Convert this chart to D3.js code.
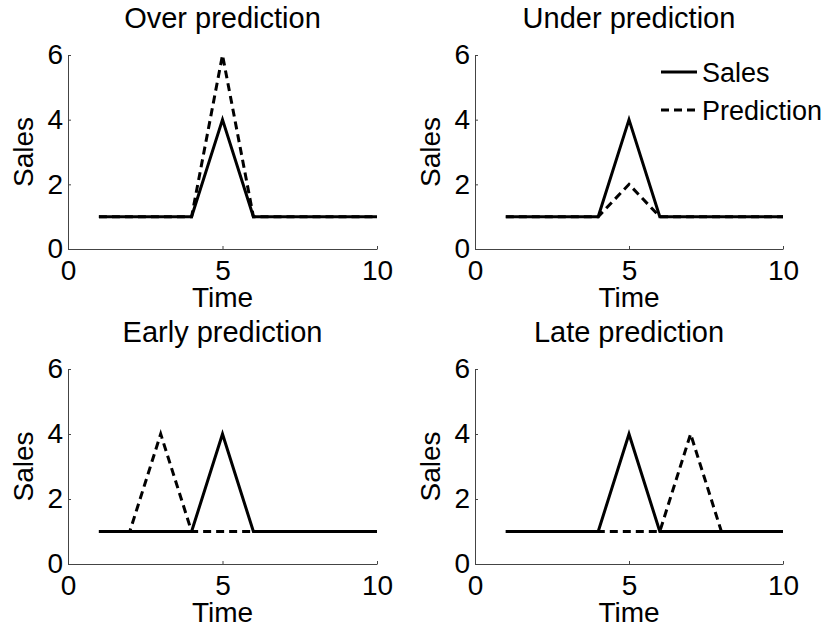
<!DOCTYPE html>
<html>
<head>
<meta charset="utf-8">
<script src="https://cdn.jsdelivr.net/npm/d3@7"></script>
<style>
  body { margin: 0; background: #fff; }
  text { font-family: "Liberation Sans", Arial, sans-serif; fill: #000; }
</style>
</head>
<body>
<script>
// data
const time = [1, 2, 3, 4, 5, 6, 7, 8, 9, 10];
const sales = [1, 1, 1, 1, 4, 1, 1, 1, 1, 1];
const overPred = [1, 1, 1, 1, 6, 1, 1, 1, 1, 1];
const underPred = [1, 1, 1, 1, 2, 1, 1, 1, 1, 1];
const earlyPred = [1, 1, 4, 1, 1, 1, 1, 1, 1, 1];
const latePred = [1, 1, 1, 1, 1, 1, 4, 1, 1, 1];
const titles = ["Over prediction", "Under prediction", "Early prediction", "Late prediction"];
const xTicks = [0, 5, 10];
const yTicks = [0, 2, 4, 6];
const legendLabels = ["Sales", "Prediction"];

const predictions = [overPred, underPred, earlyPred, latePred];

const width = 838;
const height = 630;

const svg = d3
  .select("body")
  .append("svg")
  .attr("width", width)
  .attr("height", height);

// plot area of each panel (left, right, top, bottom)
const panels = [
  { x0: 68, x1: 377, y0: 55, y1: 249 },
  { x0: 475, x1: 783, y0: 55, y1: 249 },
  { x0: 68, x1: 377, y0: 369, y1: 564 },
  { x0: 475, x1: 783, y0: 369, y1: 564 }
];

const fontSize = 28;

panels.forEach((p, i) => {
  const x = d3.scaleLinear().domain([0, 10]).range([p.x0, p.x1]);
  const y = d3.scaleLinear().domain([0, 6]).range([p.y1, p.y0]);

  const g = svg.append("g");

  //axes, MATLAB style ticks pointing inward
  const xAxis = g
    .append("g")
    .attr("transform", `translate(0,${p.y1})`)
    .call(
      d3.axisBottom(x)
        .tickValues(xTicks)
        .tickFormat(d3.format("d"))
        .tickSizeInner(-3)
        .tickSizeOuter(0)
        .tickPadding(11)
    );
  const yAxis = g
    .append("g")
    .attr("transform", `translate(${p.x0},0)`)
    .call(
      d3.axisLeft(y)
        .tickValues(yTicks)
        .tickFormat(d3.format("d"))
        .tickSizeInner(-3)
        .tickSizeOuter(0)
        .tickPadding(5)
    );

  [xAxis, yAxis].forEach((ax) => {
    ax.select(".domain").attr("stroke", "#444").attr("stroke-width", 1);
    ax.selectAll(".tick line").attr("stroke", "#444");
    ax.selectAll("text")
      .style("font-size", fontSize + "px")
      .attr("fill", "#000");
  });

  //titles and labels
  g.append("text")
    .attr("x", (p.x0 + p.x1) / 2)
    .attr("y", p.y0 - 27)
    .attr("text-anchor", "middle")
    .style("font-size", "29px")
    .text(titles[i]);

  g.append("text")
    .attr("x", (p.x0 + p.x1) / 2)
    .attr("y", p.y1 + 58)
    .attr("text-anchor", "middle")
    .style("font-size", fontSize + "px")
    .text("Time");

  g.append("text")
    .attr("transform", `translate(${p.x0 - 35},${(p.y0 + p.y1) / 2}) rotate(-90)`)
    .attr("text-anchor", "middle")
    .style("font-size", fontSize + "px")
    .text("Sales");

  const line = d3
    .line()
    .x((d, j) => x(time[j]))
    .y((d) => y(d));

  g.append("path")
    .datum(sales)
    .attr("d", line)
    .attr("fill", "none")
    .attr("stroke", "#000")
    .attr("stroke-width", 3);

  g.append("path")
    .datum(predictions[i])
    .attr("d", line)
    .attr("fill", "none")
    .attr("stroke", "#000")
    .attr("stroke-width", 3)
    .attr("stroke-dasharray", "8,5");

  //legend only in the second panel
  if (i === 1) {
    const leg = g.append("g");
    legendLabels.forEach((lab, k) => {
      const ly = 72 + k * 38;
      leg
        .append("line")
        .attr("x1", 661)
        .attr("x2", 697)
        .attr("y1", ly)
        .attr("y2", ly)
        .attr("stroke", "#000")
        .attr("stroke-width", 3)
        .attr("stroke-dasharray", k === 1 ? "8,5" : null);
      leg
        .append("text")
        .attr("x", 702)
        .attr("y", ly + 10)
        .style("font-size", "27px")
        .text(lab);
    });
  }
});
</script>
</body>
</html>
